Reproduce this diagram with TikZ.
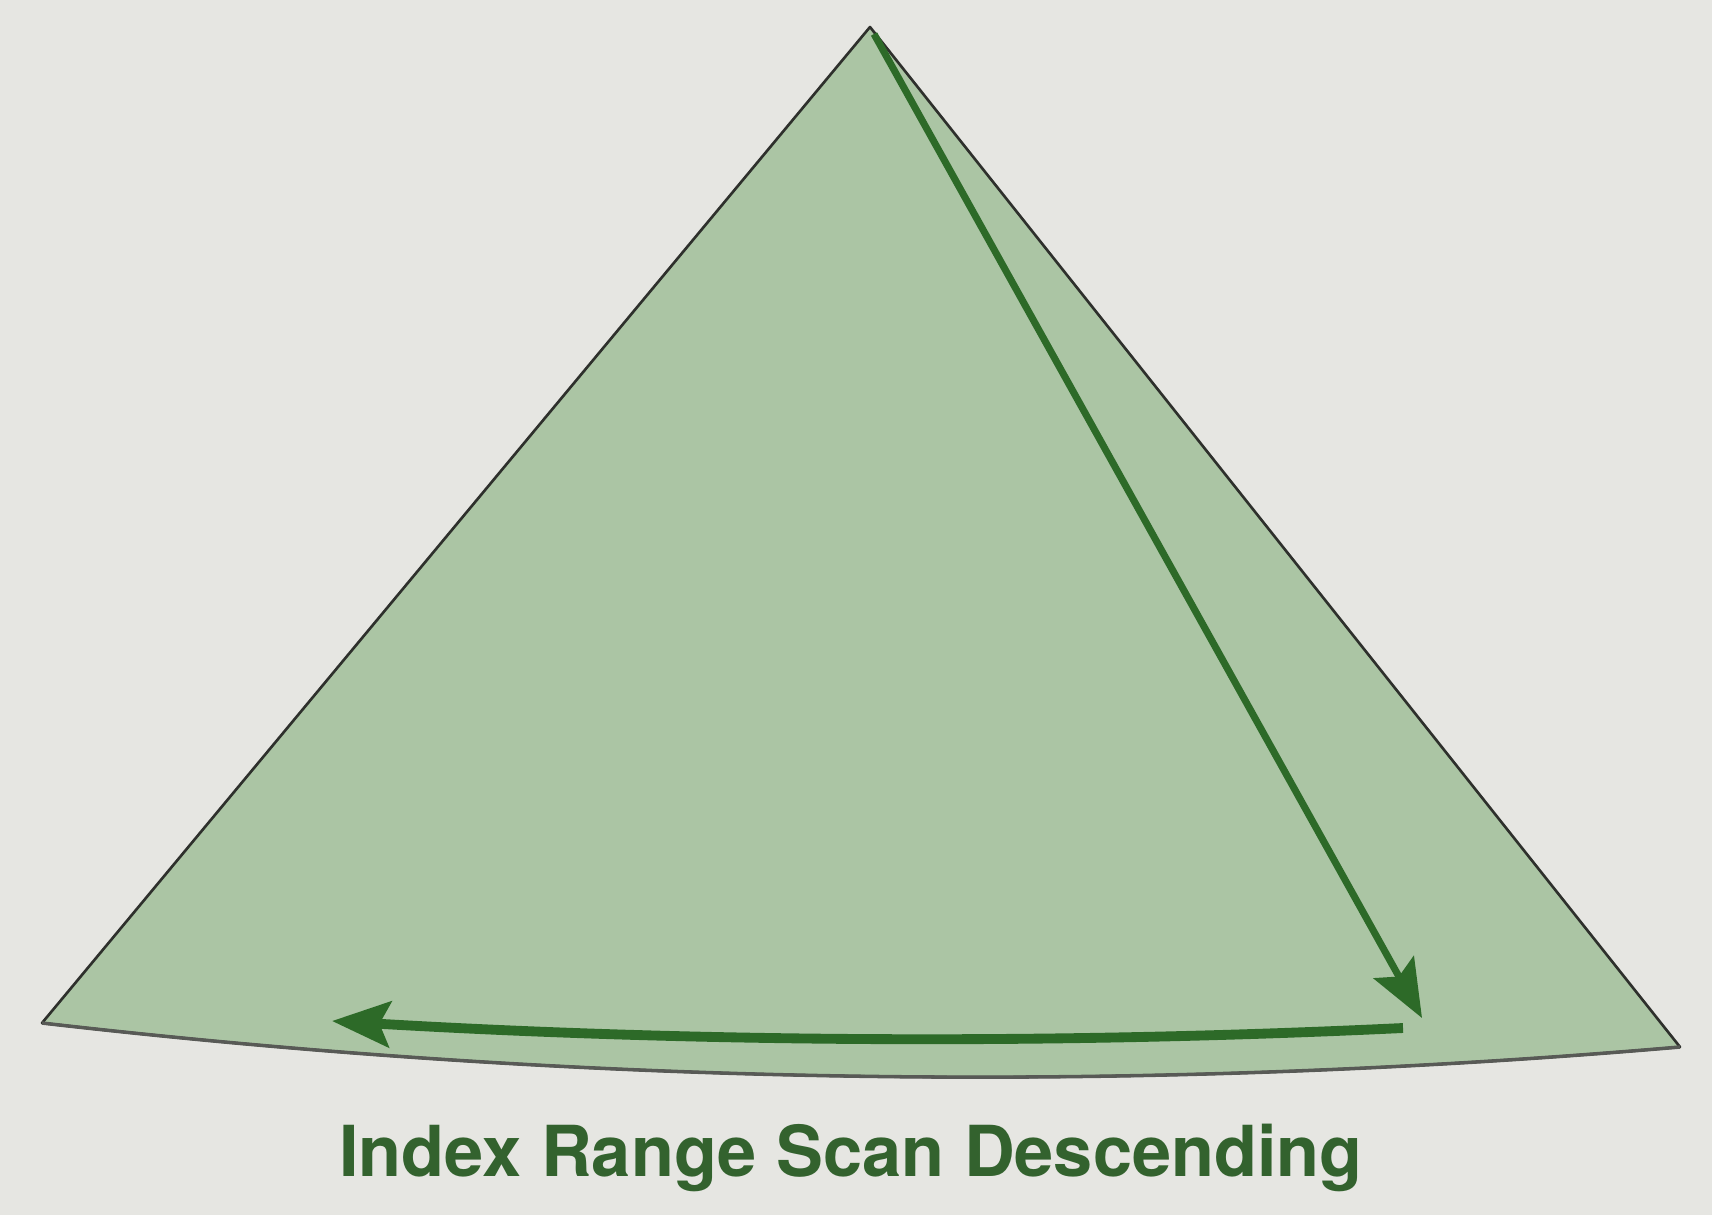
\documentclass[tikz,border=0pt]{standalone}
\usepackage{fontspec}
\setmainfont{TeX Gyre Heros}
\usetikzlibrary{arrows.meta}
\definecolor{bgpaper}{HTML}{E6E6E2}
\definecolor{conefill}{HTML}{ABC5A4}
\definecolor{edgegray}{HTML}{2E302C}
\definecolor{arrowgreen}{HTML}{2D6A28}
\definecolor{textgreen}{HTML}{33622E}
\tikzset{
  coneedge/.style={draw=edgegray, line width=0.75pt, line join=round, fill=conefill},
  scanarrow/.style={draw=arrowgreen, -{Stealth[length=16.5pt, width=13pt, inset=3pt]}},
  captiontext/.style={text=textgreen, font=\fontsize{20}{24}\selectfont\bfseries, inner sep=0pt, anchor=base}
}
\begin{document}
\begin{tikzpicture}[x=0.01cm, y=-0.01cm]
  \fill[bgpaper] (0,0) rectangle (1712,1215);
  \useasboundingbox (0,0) rectangle (1712,1215);
  \coordinate (apex) at (870,27);
  \coordinate (left) at (42,1023);
  \coordinate (right) at (1680,1047);
  \coordinate (bc1) at (1134,1094);
  \coordinate (bc2) at (588,1086);
  \path[coneedge] (apex) -- (right) .. controls (bc1) and (bc2) .. (left) -- cycle;
  \draw[edgegray!80, line width=1pt] (right) .. controls (bc1) and (bc2) .. (left);
  \coordinate (a1start) at (874,34);
  \coordinate (a1end) at (1422,1018);
  \coordinate (a2start) at (1403,1028);
  \coordinate (a2c1) at (1046,1045);
  \coordinate (a2c2) at (689,1042);
  \coordinate (a2end) at (332,1021);
  \draw[scanarrow, line width=2pt] (a1start) -- (a1end);
  \draw[scanarrow, line width=2.8pt] (a2start) .. controls (a2c1) and (a2c2) .. (a2end);
  \node[captiontext] (caption) at (851,1176) {Index Range Scan Descending};
\end{tikzpicture}
\end{document}
